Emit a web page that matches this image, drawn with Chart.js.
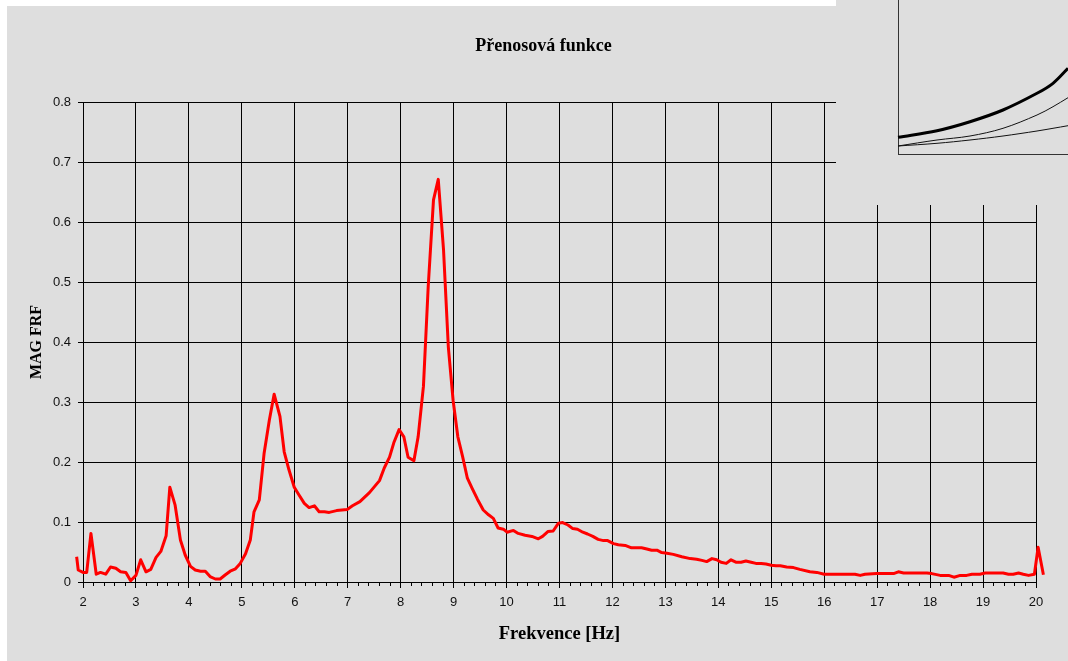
<!DOCTYPE html>
<html>
<head>
<meta charset="utf-8">
<script src="https://cdn.jsdelivr.net/npm/chart.js@4.4.1/dist/chart.umd.min.js"></script>
<style>
  html, body { margin: 0; padding: 0; background: #ffffff; }
  #wrap { position: relative; width: 1068px; height: 661px; overflow: hidden; }
  #main { position: absolute; left: 0; top: 0; }
  #inset { position: absolute; left: 836px; top: 0; background: #dedede; }
</style>
</head>
<body>
<div id="wrap">
  <canvas id="main" width="1068" height="661"></canvas>
  <canvas id="inset" width="232" height="205"></canvas>
</div>
<script>
// ---------- data ----------
const chartTitle = 'Přenosová funkce';
const xAxisTitle = 'Frekvence [Hz]';
const yAxisTitle = 'MAG FRF';

const freq = [
  1.88, 1.91, 2.00, 2.07, 2.15, 2.25, 2.33, 2.43, 2.52, 2.62, 2.71, 2.81, 2.90, 3.00,
  3.09, 3.19, 3.28, 3.38, 3.47, 3.57, 3.64, 3.74, 3.84, 3.93, 4.03, 4.12, 4.22, 4.31,
  4.40, 4.50, 4.59, 4.69, 4.78, 4.88, 4.97, 5.07, 5.16, 5.23, 5.33, 5.42, 5.52, 5.61,
  5.72, 5.80, 5.89, 5.99, 6.08, 6.18, 6.27, 6.37, 6.46, 6.56, 6.65, 6.79, 6.99, 7.09,
  7.23, 7.41, 7.60, 7.69, 7.79, 7.87, 7.97, 8.06, 8.14, 8.25, 8.33, 8.43, 8.52, 8.62,
  8.71, 8.81, 8.90, 8.99, 9.08, 9.17, 9.26, 9.35, 9.45, 9.56, 9.66, 9.75, 9.84, 9.94,
  10.01, 10.13, 10.22, 10.35, 10.48, 10.60, 10.68, 10.78, 10.88, 10.98, 11.06, 11.16,
  11.25, 11.34, 11.44, 11.53, 11.63, 11.73, 11.83, 11.91, 12.02, 12.11, 12.24, 12.36,
  12.55, 12.65, 12.74, 12.84, 12.93, 13.03, 13.15, 13.31, 13.47, 13.59, 13.69, 13.78,
  13.88, 13.97, 14.05, 14.15, 14.24, 14.33, 14.43, 14.52, 14.62, 14.71, 14.81, 14.90,
  15.00, 15.09, 15.17, 15.29, 15.42, 15.54, 15.73, 15.86, 16.00, 16.24, 16.58, 16.68,
  16.77, 16.99, 17.31, 17.40, 17.50, 17.94, 18.03, 18.19, 18.35, 18.45, 18.57, 18.69,
  18.79, 18.94, 19.04, 19.38, 19.48, 19.57, 19.67, 19.76, 19.86, 19.97, 20.04, 20.14
];
const mag = [
  0.042, 0.020, 0.016, 0.016, 0.081, 0.013, 0.016, 0.013, 0.025, 0.023, 0.017, 0.016, 0.002, 0.011,
  0.037, 0.017, 0.021, 0.041, 0.051, 0.077, 0.158, 0.128, 0.070, 0.045, 0.026, 0.020, 0.018, 0.018,
  0.009, 0.005, 0.005, 0.012, 0.018, 0.022, 0.031, 0.047, 0.070, 0.117, 0.137, 0.214, 0.270, 0.313,
  0.276, 0.217, 0.187, 0.158, 0.145, 0.131, 0.124, 0.127, 0.117, 0.117, 0.116, 0.119, 0.121, 0.127,
  0.134, 0.149, 0.169, 0.190, 0.208, 0.232, 0.254, 0.242, 0.208, 0.202, 0.242, 0.326, 0.492, 0.637,
  0.671, 0.553, 0.392, 0.303, 0.242, 0.209, 0.173, 0.156, 0.138, 0.120, 0.112, 0.106, 0.090, 0.088,
  0.083, 0.086, 0.081, 0.078, 0.076, 0.072, 0.076, 0.084, 0.085, 0.098, 0.099, 0.095,
  0.089, 0.088, 0.083, 0.080, 0.076, 0.071, 0.069, 0.069, 0.064, 0.062, 0.061, 0.057,
  0.057, 0.055, 0.053, 0.053, 0.049, 0.048, 0.046, 0.042, 0.039, 0.038, 0.036, 0.034,
  0.039, 0.037, 0.033, 0.031, 0.037, 0.033, 0.033, 0.035, 0.033, 0.031, 0.031, 0.030,
  0.028, 0.027, 0.027, 0.025, 0.024, 0.021, 0.017, 0.016, 0.013, 0.013, 0.013, 0.011,
  0.013, 0.014, 0.014, 0.017, 0.015, 0.015, 0.014, 0.011, 0.011, 0.008, 0.011, 0.011,
  0.013, 0.013, 0.015, 0.015, 0.013, 0.013, 0.015, 0.013, 0.011, 0.013, 0.058, 0.012
];

const xTickLabels = ['2','3','4','5','6','7','8','9','10','11','12','13','14','15','16','17','18','19','20'];
const yTickLabels = ['0','0.1','0.2','0.3','0.4','0.5','0.6','0.7','0.8'];

// partial inset (piece of another chart, top right)
const insetX     = [0, 39, 72, 105, 139, 155, 170];
const insetThick = [16.7, 23.3, 32.3, 44.0, 60.7, 70.7, 85.7];
const insetThin1 = [8.0, 14.0, 18.0, 25.7, 39.0, 47.3, 56.3];
const insetThin2 = [8.0, 10.7, 14.0, 18.0, 23.0, 25.7, 28.3];

// ---------- main chart ----------
const xMin = 2, xMax = 20, xMajorStep = 1, xMinorStep = 0.2;
const yMin = 0, yMax = 0.8, yStep = 0.1;
const isMajor = v => Math.abs(v - Math.round(v)) < 1e-6;

const bgPlugin = {
  id: 'bg',
  beforeDraw(chart) {
    const c = chart.ctx;
    c.save();
    c.fillStyle = '#ffffff';
    c.fillRect(0, 0, chart.width, chart.height);
    c.fillStyle = '#dedede';
    c.fillRect(7, 6, chart.width - 7, chart.height - 6);
    c.restore();
  }
};

const tickFont = { family: "'Liberation Sans', Arial, sans-serif", size: 13 };
const serifBold = (s) => ({ family: "'Liberation Serif', 'Times New Roman', serif", size: s, weight: 'bold' });

new Chart(document.getElementById('main'), {
  type: 'line',
  data: {
    datasets: [{
      data: freq.map((f, i) => ({ x: f, y: mag[i] })),
      borderColor: '#ff0000',
      borderWidth: 3,
      pointRadius: 0,
      tension: 0,
      borderJoinStyle: 'round',
      clip: false
    }]
  },
  options: {
    responsive: false,
    animation: false,
    devicePixelRatio: 1,
    layout: { padding: { left: 51, right: 32, top: 0, bottom: 0 } },
    plugins: {
      legend: { display: false },
      tooltip: { enabled: false },
      title: {
        display: true,
        text: chartTitle,
        color: '#000',
        font: serifBold(18),
        padding: { top: 35.2, bottom: 45.2 }
      }
    },
    scales: {
      x: {
        type: 'linear',
        afterDataLimits(scale) { scale.min = xMin; scale.max = xMax; },
        afterFit(scale) { scale.height = 79; },
        ticks: {
          stepSize: xMajorStep,
          autoSkip: false,
          maxRotation: 0,
          padding: 7,
          color: '#111',
          font: tickFont,
          callback: (v, i) => xTickLabels[i]
        },
        grid: { color: '#000', tickColor: '#000', tickLength: 6, lineWidth: 1 },
        border: { color: '#000', width: 1 },
        title: {
          display: true,
          text: xAxisTitle,
          color: '#000',
          font: serifBold(18.5),
          padding: { top: 0, bottom: 15.9 }
        }
      },
      xMinor: {
        type: 'linear',
        position: { y: 0 },
        afterDataLimits(scale) { scale.min = xMin; scale.max = xMax; },
        afterBuildTicks(scale) {
          const t = [];
          const n = Math.round((xMax - xMin) / xMinorStep);
          for (let i = 0; i <= n; i++) {
            const v = Math.round((xMin + i * xMinorStep) * 10) / 10;
            if (!isMajor(v)) t.push({ value: v });
          }
          scale.ticks = t;
        },
        ticks: { display: false, autoSkip: false },
        grid: { drawOnChartArea: false, color: '#000', tickColor: '#000', tickLength: 4, lineWidth: 1 },
        border: { display: false }
      },
      y: {
        min: yMin,
        max: yMax,
        afterFit(scale) { scale.width = 32; },
        ticks: {
          stepSize: yStep,
          padding: 7,
          color: '#111',
          font: tickFont,
          callback: (v, i) => yTickLabels[i]
        },
        grid: { color: '#000', tickColor: '#000', tickLength: 5, lineWidth: 1 },
        border: { color: '#000', width: 1 },
        title: {
          display: true,
          text: yAxisTitle,
          color: '#000',
          font: serifBold(16),
          padding: { top: -23.6, bottom: 0 }
        }
      }
    }
  },
  plugins: [bgPlugin]
});

// ---------- inset chart (top-right fragment) ----------
new Chart(document.getElementById('inset'), {
  type: 'line',
  data: {
    datasets: [
      { data: insetX.map((x, i) => ({ x, y: insetThick[i] })), borderColor: '#000', borderWidth: 3, pointRadius: 0, tension: 0.35, clip: false },
      { data: insetX.map((x, i) => ({ x, y: insetThin1[i] })), borderColor: '#111', borderWidth: 1, pointRadius: 0, tension: 0.35, clip: false },
      { data: insetX.map((x, i) => ({ x, y: insetThin2[i] })), borderColor: '#111', borderWidth: 1, pointRadius: 0, tension: 0.35, clip: false }
    ]
  },
  options: {
    responsive: false,
    animation: false,
    devicePixelRatio: 1,
    layout: { padding: { left: 62, right: 0, top: 0, bottom: 51 } },
    plugins: { legend: { display: false }, tooltip: { enabled: false }, title: { display: false } },
    scales: {
      x: {
        type: 'linear', min: 0, max: 170,
        ticks: { display: false },
        grid: { display: false, drawTicks: false },
        border: { display: true, color: '#333', width: 1 },
        afterFit(scale) { scale.height = 0; }
      },
      y: {
        type: 'linear', min: 0, max: 154,
        ticks: { display: false },
        grid: { display: false, drawTicks: false },
        border: { display: true, color: '#333', width: 1 },
        afterFit(scale) { scale.width = 0; }
      }
    }
  }
});
</script>
</body>
</html>
